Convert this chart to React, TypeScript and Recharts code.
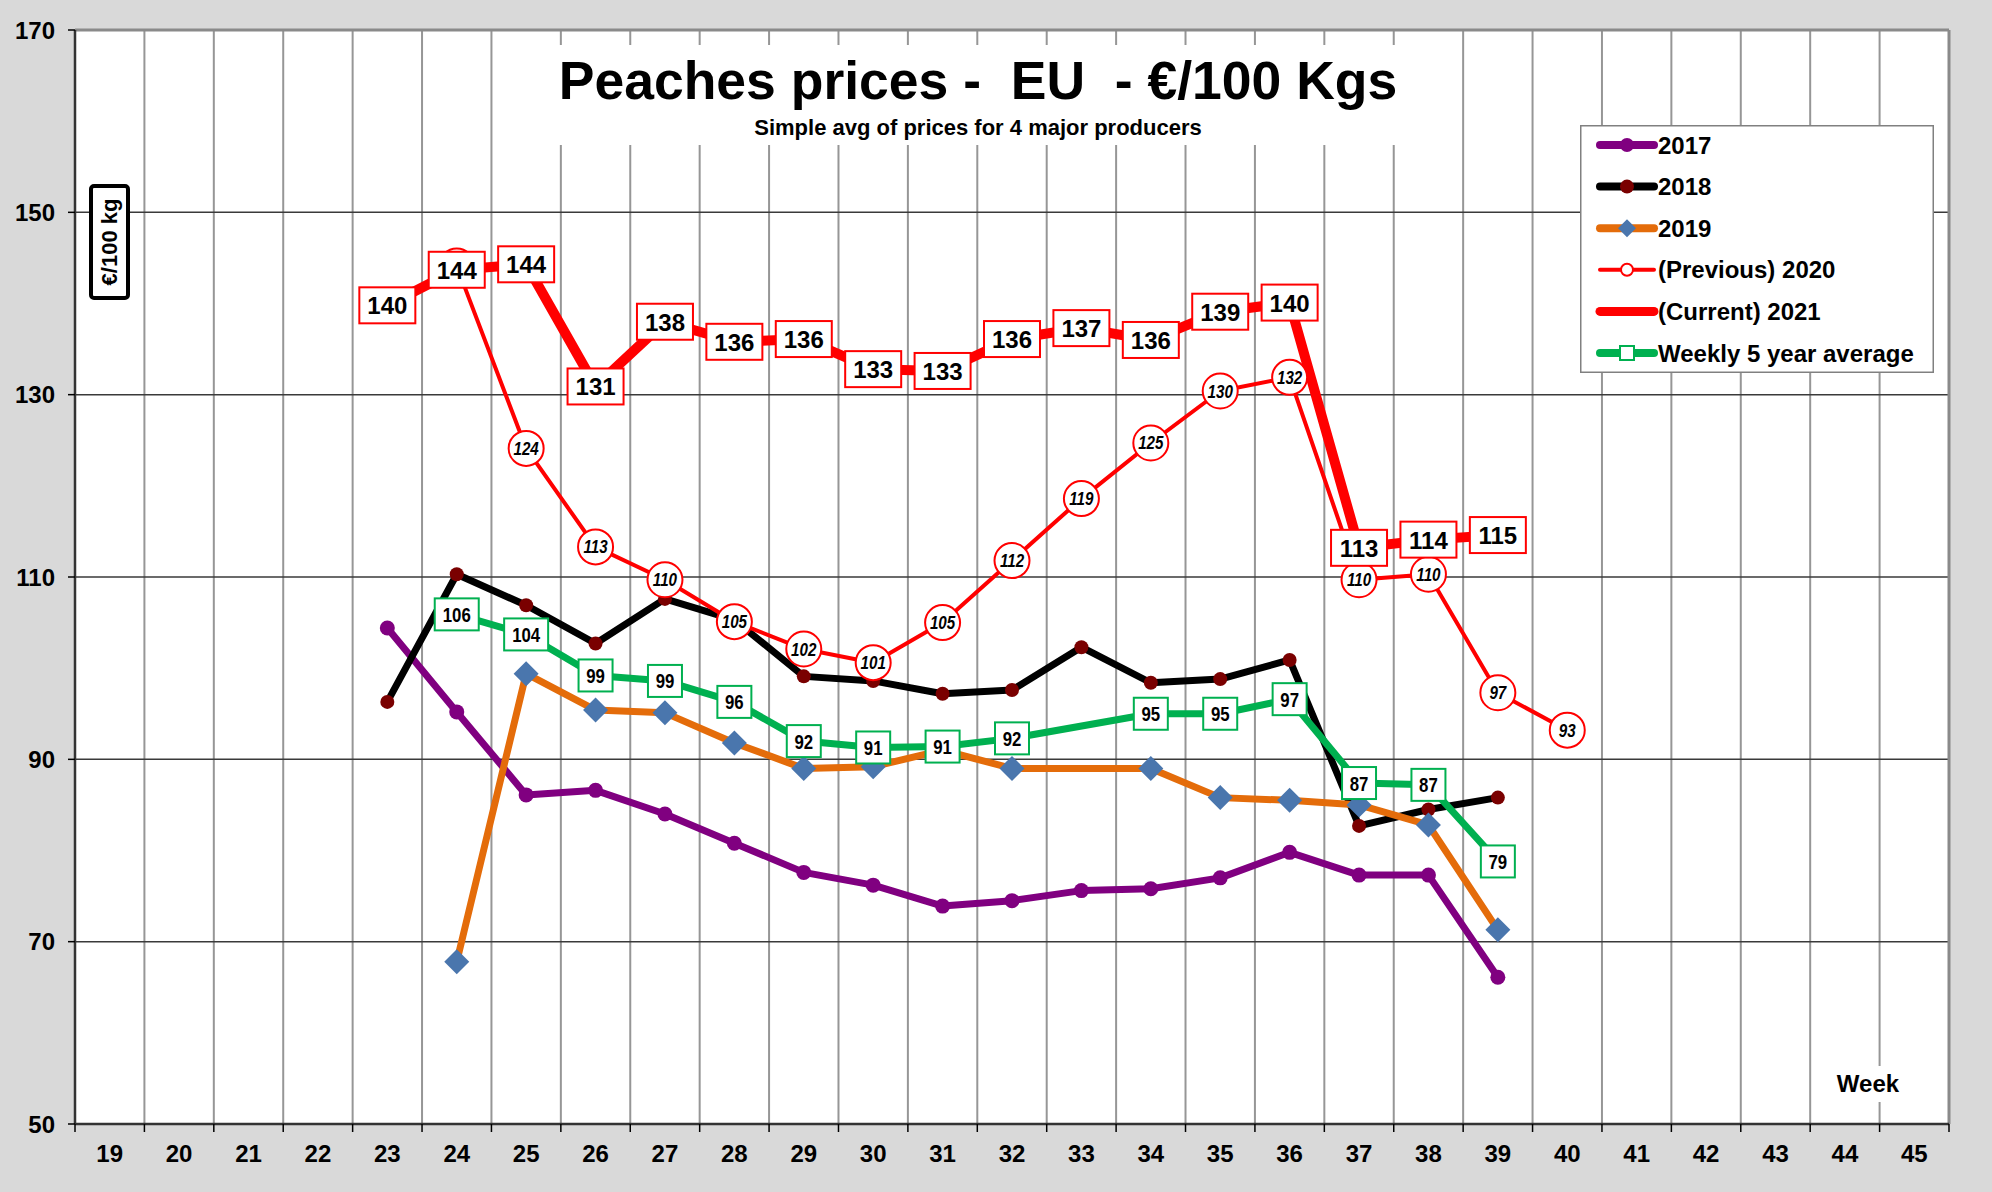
import { LineChart, Line, XAxis, YAxis, CartesianGrid, Legend, LabelList, ReferenceLine } from 'recharts';

const W = 1992;
const H = 1192;
const SANS = '"Liberation Sans", Arial, Helvetica, sans-serif';

// weeks shown on the x axis
const weeks = [19, 20, 21, 22, 23, 24, 25, 26, 27, 28, 29, 30, 31, 32, 33, 34, 35, 36, 37, 38, 39, 40, 41, 42, 43, 44, 45];
const yTicks = [50, 70, 90, 110, 130, 150, 170];

// €/100 kg, one value per week above (null = no data)
const s2017 = [null, null, null, null, 104.4, 95.2, 86.1, 86.6, 84.0, 80.8, 77.6, 76.2, 73.9, 74.5, 75.6, 75.8, 77.0, 79.8, 77.3, 77.3, 66.1, null, null, null, null, null, null];
const s2018 = [null, null, null, null, 96.3, 110.3, 106.9, 102.7, 107.6, 105.3, 99.1, 98.6, 97.2, 97.6, 102.3, 98.4, 98.8, 100.9, 82.7, 84.5, 85.8, null, null, null, null, null, null];
const s2019 = [null, null, null, null, null, 67.8, 99.4, 95.4, 95.1, 91.8, 89.0, 89.2, 91.0, 89.0, null, 89.0, 85.8, 85.5, 85.0, 82.8, 71.3, null, null, null, null, null, null];
const s2020 = [null, null, null, null, null, 144.1, 124.1, 113.3, 109.7, 105.1, 102.1, 100.6, 105.0, 111.8, 118.6, 124.7, 130.4, 131.9, 109.7, 110.3, 97.3, 93.2, null, null, null, null, null];
const s2021 = [null, null, null, null, 139.8, 143.7, 144.3, 130.9, 138.0, 135.8, 136.1, 132.8, 132.6, 136.1, 137.3, 136.0, 139.1, 140.1, 113.2, 114.1, 114.6, null, null, null, null, null, null];
const avg5 = [null, null, null, null, null, 105.9, 103.7, 99.2, 98.6, 96.3, 92.0, 91.3, 91.4, 92.3, null, 95.0, 95.0, 96.6, 87.4, 87.2, 78.8, null, null, null, null, null, null];

const rows = weeks.map((w, i) => ({
  week: w,
  y2017: s2017[i],
  y2018: s2018[i],
  y2019: s2019[i],
  y2020: s2020[i],
  y2021: s2021[i],
  avg: avg5[i],
}));

const C = {
  purple: '#800080',
  black: '#000000',
  maroon: '#7a0000',
  orange: '#e46c0a',
  blue: '#4a76ad',
  red: '#ff0000',
  green: '#00b050',
};

const pt = (p: any) => {
  const x = p.x ?? p.viewBox?.x;
  const y = p.y ?? p.viewBox?.y;
  return { x, y };
};

const RoundDot = ({ fill, r }: { fill: string; r: number }) => (props: any) => {
  const { cx, cy, index } = props;
  if (cx == null || cy == null) return <g key={`d${index}`} />;
  return <circle key={`d${index}`} cx={cx} cy={cy} r={r} fill={fill} />;
};

const DiamondDot = (props: any) => {
  const { cx, cy, index } = props;
  if (cx == null || cy == null) return <g key={`d${index}`} />;
  const h = 12.5;
  return <polygon key={`d${index}`} points={`${cx},${cy - h} ${cx + h},${cy} ${cx},${cy + h} ${cx - h},${cy}`} fill={C.blue} />;
};

// narrow bold text: no condensed face installed, so squeeze a regular one
const Narrow = ({ x, y, size, italic, children }: any) => (
  <text
    transform={`translate(${x},${y}) scale(0.8,1)`}
    textAnchor="middle"
    fontFamily={SANS}
    fontStyle={italic ? 'italic' : 'normal'}
    fontWeight="bold"
    fontSize={size}
    fill="#000"
  >
    {children}
  </text>
);

const PrevLabel = (props: any) => {
  const { value, index } = props;
  const { x, y } = pt(props);
  if (value == null || x == null || y == null) return null;
  // the current-year box sits on top of this one when both values nearly coincide
  const covered = s2021[index] != null && Math.abs((s2021[index] as number) - value) < 2;
  return (
    <g>
      <circle cx={x} cy={y} r={17.5} fill="#fff" stroke={C.red} strokeWidth={2} />
      {!covered && (
        <Narrow x={x} y={y + 6.5} size={19} italic>
          {Math.round(value)}
        </Narrow>
      )}
    </g>
  );
};

const CurrentLabel = (props: any) => {
  const { value } = props;
  const { x, y } = pt(props);
  if (value == null || x == null || y == null) return null;
  return (
    <g>
      <rect x={x - 28} y={y - 18} width={56} height={36} fill="#fff" stroke={C.red} strokeWidth={2} />
      <text x={x} y={y + 9} textAnchor="middle" fontFamily={SANS} fontWeight="bold" fontSize={24} fill="#000">
        {Math.round(value)}
      </text>
    </g>
  );
};

const AvgLabel = (props: any) => {
  const { value } = props;
  const { x, y } = pt(props);
  if (value == null || x == null || y == null) return null;
  const txt = String(Math.round(value));
  const w = txt.length > 2 ? 44 : 34;
  return (
    <g>
      <rect x={x - w / 2} y={y - 16} width={w} height={32} fill="#fff" stroke={C.green} strokeWidth={2} />
      <Narrow x={x} y={y + 7.5} size={21}>
        {txt}
      </Narrow>
    </g>
  );
};

const WeekTick = (props: any) => {
  const { x, y, payload, index, width } = props;
  const band = width / weeks.length;
  const last = index === weeks.length - 1;
  return (
    <g>
      <line x1={x - band / 2} x2={x - band / 2} y1={y} y2={y + 8} stroke="#000" strokeWidth={1.5} />
      {last && <line x1={x + band / 2} x2={x + band / 2} y1={y} y2={y + 8} stroke="#000" strokeWidth={1.5} />}
      <text x={x} y={y + 38} textAnchor="middle" fontFamily={SANS} fontWeight="bold" fontSize={24} fill="#000">
        {payload.value}
      </text>
    </g>
  );
};

const legendItems = [
  { label: '2017', color: C.purple, width: 8, mark: 'dot', markColor: C.purple },
  { label: '2018', color: C.black, width: 8, mark: 'dot', markColor: C.maroon },
  { label: '2019', color: C.orange, width: 8, mark: 'diamond', markColor: C.blue },
  { label: '(Previous) 2020', color: C.red, width: 4, mark: 'ring', markColor: C.red },
  { label: '(Current) 2021', color: C.red, width: 9, mark: 'none', markColor: C.red },
  { label: 'Weekly 5 year average', color: C.green, width: 8, mark: 'square', markColor: C.green },
];

const LegendBox = () => (
  <svg width={354} height={248} style={{ display: 'block' }}>
    <rect x={0.75} y={0.75} width={352.5} height={246.5} fill="#fff" stroke="#808080" strokeWidth={1.5} />
    {legendItems.map((it, i) => {
      const cy = 20 + i * 41.6;
      return (
        <g key={it.label}>
          <line x1={20} x2={74} y1={cy} y2={cy} stroke={it.color} strokeWidth={it.width} strokeLinecap="round" />
          {it.mark === 'dot' && <circle cx={47} cy={cy} r={7} fill={it.markColor} />}
          {it.mark === 'diamond' && <polygon points={`47,${cy - 9} 56,${cy} 47,${cy + 9} 38,${cy}`} fill={it.markColor} />}
          {it.mark === 'ring' && <circle cx={47} cy={cy} r={6} fill="#fff" stroke={it.markColor} strokeWidth={2} />}
          {it.mark === 'square' && <rect x={40} y={cy - 7} width={14} height={14} fill="#fff" stroke={it.markColor} strokeWidth={2} />}
          <text x={78} y={cy + 8.5} fontFamily={SANS} fontWeight="bold" fontSize={24} fill="#000">
            {it.label}
          </text>
        </g>
      );
    })}
  </svg>
);

export default function App() {
  return (
    <div style={{ position: 'relative', width: W, height: H, background: '#d9d9d9' }}>
      <style>{'body{margin:0}'}</style>
      <LineChart width={W} height={H} data={rows} margin={{ top: 30, right: 43, bottom: 0, left: 0 }}>
        <CartesianGrid
          horizontal={false}
          fill="#fff"
          stroke="#969696"
          strokeWidth={2}
          verticalCoordinatesGenerator={({ offset }: any) =>
            [...weeks, weeks[weeks.length - 1] + 1].map((_, i) => offset.left + (i * offset.width) / weeks.length)
          }
        />
        <CartesianGrid vertical={false} stroke="#3a3a3a" strokeWidth={1.5} />
        <XAxis
          dataKey="week"
          type="number"
          domain={[18.5, 45.5]}
          ticks={weeks}
          interval={0}
          height={68}
          tickLine={false}
          tickSize={0}
          tickMargin={0}
          axisLine={{ stroke: '#333', strokeWidth: 2.5 }}
          tick={<WeekTick />}
        />
        <YAxis
          domain={[50, 170]}
          ticks={yTicks}
          width={75}
          tickSize={7}
          tickMargin={13}
          tickLine={{ stroke: '#000', strokeWidth: 1.5 }}
          axisLine={{ stroke: '#333', strokeWidth: 2.5 }}
          tick={{ fill: '#000', fontFamily: SANS, fontWeight: 'bold', fontSize: 24 }}
        />
        <ReferenceLine y={170} stroke="#8a8a8a" strokeWidth={3} />
        <ReferenceLine x={45.5} stroke="#8a8a8a" strokeWidth={3} />
        <Legend
          layout="vertical"
          align="center"
          verticalAlign="middle"
          wrapperStyle={{ left: 1580, top: 125, width: 354, height: 248 }}
          content={<LegendBox />}
        />
        <Line dataKey="y2017" name="2017" stroke={C.purple} strokeWidth={7} strokeLinejoin="round" dot={RoundDot({ fill: C.purple, r: 7.5 })} activeDot={false} isAnimationActive={false} />
        <Line dataKey="y2018" name="2018" stroke={C.black} strokeWidth={7} strokeLinejoin="round" dot={RoundDot({ fill: C.maroon, r: 7 })} activeDot={false} isAnimationActive={false} />
        <Line dataKey="y2019" name="2019" stroke={C.orange} strokeWidth={7} strokeLinejoin="round" connectNulls dot={DiamondDot} activeDot={false} isAnimationActive={false} />
        <Line dataKey="avg" name="Weekly 5 year average" stroke={C.green} strokeWidth={7} strokeLinejoin="round" connectNulls dot={false} activeDot={false} isAnimationActive={false}>
          <LabelList dataKey="avg" content={<AvgLabel />} />
        </Line>
        <Line dataKey="y2020" name="(Previous) 2020" stroke={C.red} strokeWidth={4} strokeLinejoin="round" dot={false} activeDot={false} isAnimationActive={false}>
          <LabelList dataKey="y2020" content={<PrevLabel />} />
        </Line>
        <Line dataKey="y2021" name="(Current) 2021" stroke={C.red} strokeWidth={10} strokeLinejoin="round" dot={false} activeDot={false} isAnimationActive={false}>
          <LabelList dataKey="y2021" content={<CurrentLabel />} />
        </Line>
      </LineChart>
      <svg width={W} height={H} style={{ position: 'absolute', left: 0, top: 0, pointerEvents: 'none' }}>
        <rect x={545} y={45} width={866} height={100} fill="#fff" />
        <text x={978} y={99} textAnchor="middle" fontFamily={SANS} fontWeight="bold" fontSize={53.5} fill="#000" style={{ whiteSpace: 'pre' }}>
          {'Peaches prices -  EU  - €/100 Kgs'}
        </text>
        <text x={978} y={135} textAnchor="middle" fontFamily={SANS} fontWeight="bold" fontSize={22} fill="#000">
          Simple avg of prices for 4 major producers
        </text>
        <rect x={91} y={186} width={37} height={112} rx={3} fill="#fff" stroke="#000" strokeWidth={4} />
        <text x={0} y={0} transform="translate(117,242) rotate(-90)" textAnchor="middle" fontFamily={SANS} fontWeight="bold" fontSize={22} fill="#000">
          €/100 kg
        </text>
        <rect x={1836} y={1066} width={64} height={36} fill="#fff" />
        <text x={1868} y={1092} textAnchor="middle" fontFamily={SANS} fontWeight="bold" fontSize={24} fill="#000">
          Week
        </text>
      </svg>
    </div>
  );
}
